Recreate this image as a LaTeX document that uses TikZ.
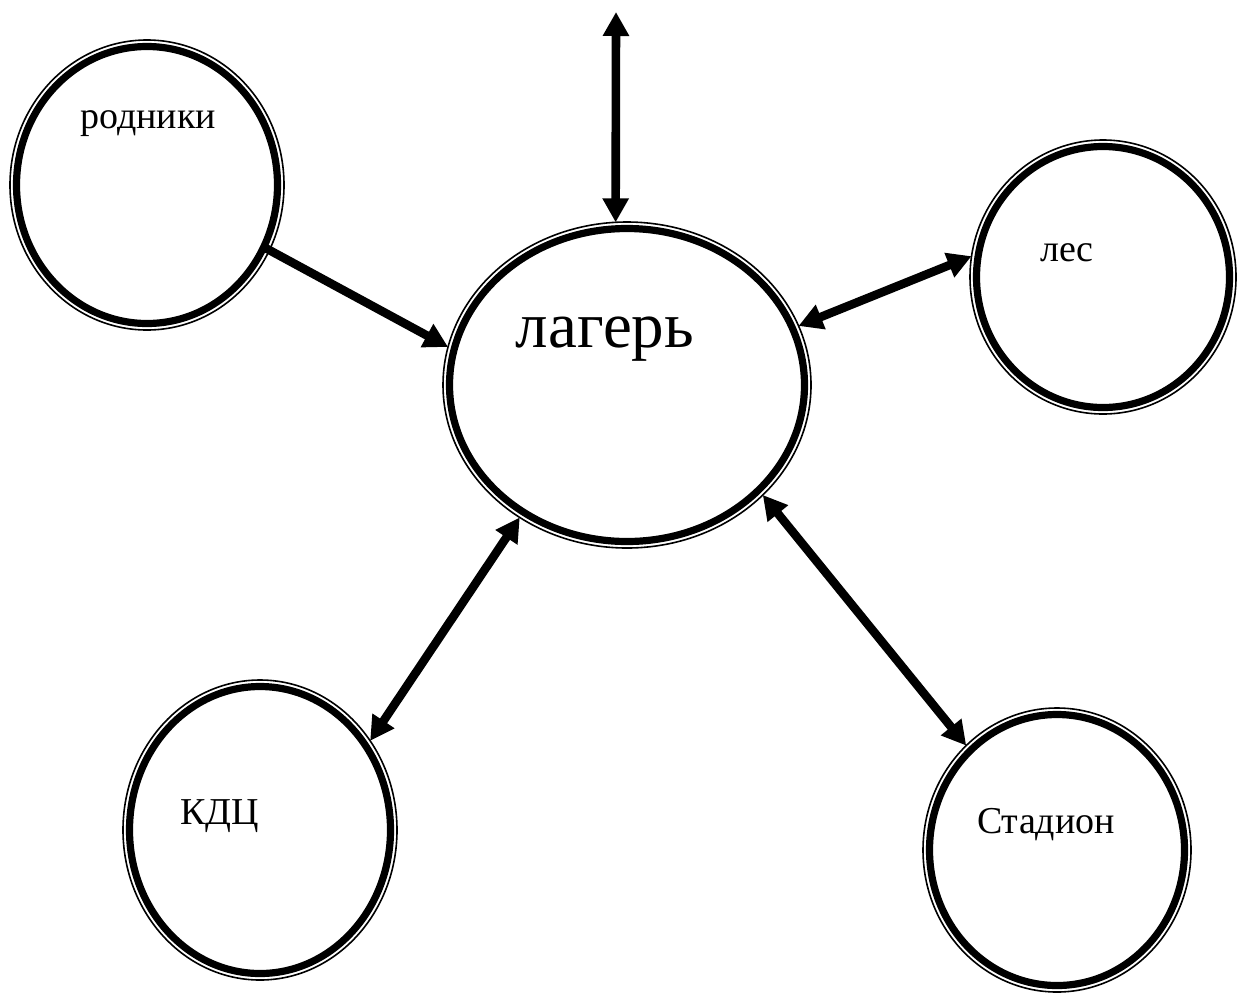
\documentclass[tikz,border=0pt]{standalone}
\usepackage{fontspec}
\setmainfont{Liberation Serif}
\usetikzlibrary{shapes.geometric,arrows.meta}
\begin{document}
\begin{tikzpicture}[x=0.5pt,y=-0.5pt,
  outerring/.style={ellipse,draw,line width=0.8pt,inner sep=0pt,outer sep=0pt},
  innerring/.style={ellipse,draw,line width=3.6pt,inner sep=0pt,outer sep=0pt},
  lbl/.style={inner sep=0pt,anchor=base,font=\fontsize{19}{22}\selectfont},
  conn/.style={line width=4.3pt,-{Triangle[length=12pt,width=12.5pt]}},
  biconn/.style={line width=4.3pt,{Triangle[length=12pt,width=12.5pt]}-{Triangle[length=12pt,width=12.5pt]}}]
\useasboundingbox (0,0) rectangle (1240,996);
% rings
\node[outerring,minimum width=137pt,minimum height=145pt] (rod) at (147,185) {};
\node[innerring,minimum width=130.5pt,minimum height=138.5pt] (rodin) at (147,185) {};
\node[outerring,minimum width=184pt,minimum height=163pt] (lag) at (627,385) {};
\node[innerring,minimum width=177.5pt,minimum height=156.5pt] (lagin) at (627,385) {};
\node[outerring,minimum width=133pt,minimum height=137pt] (les) at (1103,277) {};
\node[innerring,minimum width=126.5pt,minimum height=130.5pt] (lesin) at (1103,277) {};
\node[outerring,minimum width=137pt,minimum height=150pt] (kdc) at (260,830) {};
\node[innerring,minimum width=130.5pt,minimum height=143.5pt] (kdcin) at (260,830) {};
\node[outerring,minimum width=134pt,minimum height=142pt] (stad) at (1057,850) {};
\node[innerring,minimum width=127.5pt,minimum height=135.5pt] (stadin) at (1057,850) {};
% labels
\node[lbl] (trod) at (148,128) {родники};
\node[lbl,font=\fontsize{32.5}{38}\selectfont] (tlag) at (605,347) {лагерь};
\node[lbl] (tles) at (1067,261) {лес};
\node[lbl] (tkdc) at (220,824) {КДЦ};
\node[lbl] (tstad) at (1046,833) {Стадион};
% connectors
\coordinate (top) at (616,12);
\draw[biconn] (top) -- (lag.94);
\draw[conn] (rodin.332) -- (lag.168);
\draw[biconn] (lag.19) -- (les.171);
\draw[biconn] (kdc.39) -- (lag.231);
\draw[biconn] (lag.321) -- (stad.131);
\end{tikzpicture}
\end{document}
